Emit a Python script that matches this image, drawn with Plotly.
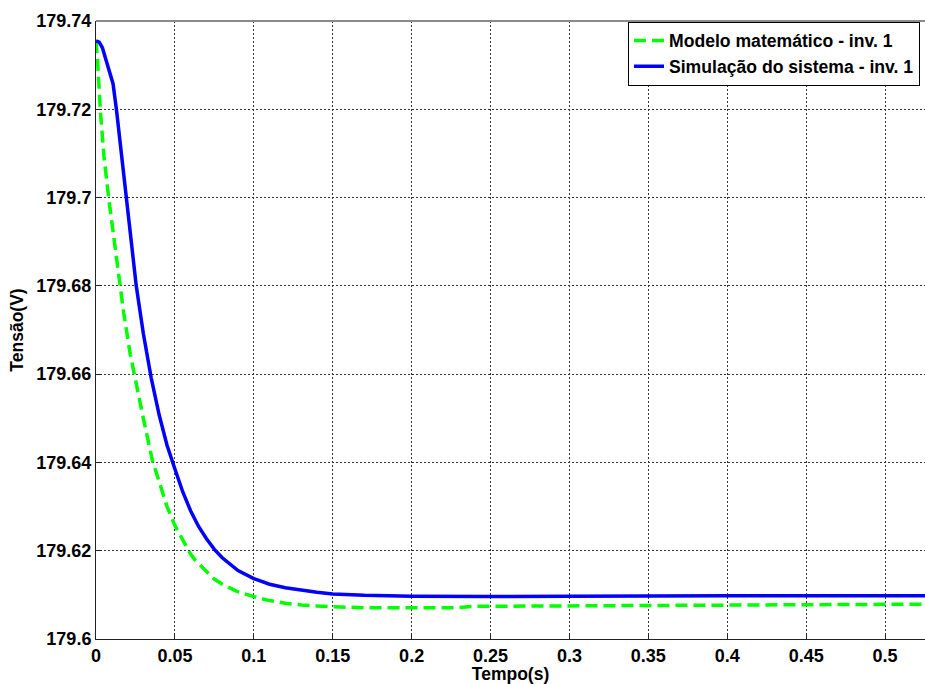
import plotly.graph_objects as go

# ---- data ----
t_model = [0, 0.001, 0.0027, 0.005, 0.008, 0.011, 0.0141, 0.0175, 0.0217, 0.026, 0.03,
           0.0357, 0.04, 0.045, 0.05, 0.055, 0.06, 0.063, 0.07, 0.0745, 0.08, 0.09, 0.1,
           0.11, 0.12, 0.13, 0.14, 0.15, 0.17, 0.2, 0.23, 0.24, 0.3, 0.35, 0.4, 0.45, 0.53]
v_model = [179.7355, 179.731, 179.720, 179.7095, 179.700, 179.6915, 179.6825, 179.674,
           179.6645, 179.6565, 179.650, 179.6405, 179.6355, 179.630, 179.6257, 179.6223,
           179.6192, 179.6178, 179.6152, 179.6137, 179.6124, 179.6107, 179.6096, 179.6087,
           179.6081, 179.6077, 179.6075, 179.6073, 179.6071, 179.6071, 179.6071, 179.6074,
           179.6075, 179.6076, 179.6078, 179.6078, 179.6079]

t_sim = [0, 0.002, 0.004, 0.006, 0.008, 0.0108, 0.013, 0.016, 0.019, 0.0225, 0.0255, 0.03,
         0.035, 0.04, 0.045, 0.05, 0.055, 0.06, 0.065, 0.07, 0.075, 0.08, 0.09, 0.1, 0.11,
         0.12, 0.13, 0.14, 0.15, 0.17, 0.2, 0.25, 0.3, 0.35, 0.4, 0.45, 0.5, 0.53]
v_sim = [179.7355, 179.7352, 179.7340, 179.7315, 179.7288, 179.7258, 179.7198, 179.7100,
         179.7003, 179.6895, 179.6800, 179.6692, 179.6591, 179.6508, 179.6439, 179.6385,
         179.6333, 179.6290, 179.6255, 179.6227, 179.6203, 179.6184, 179.6155, 179.6137,
         179.6124, 179.6116, 179.6110, 179.6106, 179.6102, 179.6099, 179.6097, 179.6096,
         179.6097, 179.6098, 179.6098, 179.6098, 179.6098, 179.6098]

x_ticks = [0, 0.05, 0.1, 0.15, 0.2, 0.25, 0.3, 0.35, 0.4, 0.45, 0.5]
x_labels = ["0", "0.05", "0.1", "0.15", "0.2", "0.25", "0.3", "0.35", "0.4", "0.45", "0.5"]
y_ticks = [179.6, 179.62, 179.64, 179.66, 179.68, 179.7, 179.72, 179.74]
y_labels = ["179.6", "179.62", "179.64", "179.66", "179.68", "179.7", "179.72", "179.74"]

name_model = "Modelo matemático - inv. 1"
name_sim = "Simulação do sistema - inv. 1"

FONT = "Liberation Sans, Arial, sans-serif"
X_RANGE = [0, 0.5253]
Y_RANGE = [179.6, 179.74]

fig = go.Figure()
fig.add_trace(go.Scatter(x=t_model, y=v_model, mode="lines", name=name_model,
                         line=dict(color="#00ff00", width=3.5, dash="12px,6px")))
fig.add_trace(go.Scatter(x=t_sim, y=v_sim, mode="lines", name=name_sim,
                         line=dict(color="#0000ff", width=3.5)))

tickfont = dict(family=FONT, size=18, color="black", weight="bold")

fig.update_layout(
    width=925, height=684,
    margin=dict(l=96, r=0, t=21, b=45),
    paper_bgcolor="white", plot_bgcolor="white",
    font=dict(family=FONT, color="black"),
    showlegend=True,
    legend=dict(x=(628 - 96) / 829, y=1 - (21.5 - 21) / 618, xanchor="left", yanchor="top",
                bgcolor="white", bordercolor="black", borderwidth=1,
                font=dict(family=FONT, size=17.6, color="black", weight="bold"),
                tracegroupgap=0, itemwidth=30),
    xaxis=dict(range=X_RANGE, tickvals=x_ticks, ticktext=x_labels, tickfont=tickfont,
               showgrid=True, gridcolor="#333333", gridwidth=1, griddash="2px,2px",
               zeroline=False, showline=True, linecolor="#222222", linewidth=1,
               ticks="inside", ticklen=5, tickcolor="#222222", mirror=False,
               title=dict(text="Tempo(s)", font=dict(family=FONT, size=17.5, color="black", weight="bold"),
                          standoff=2)),
    yaxis=dict(range=Y_RANGE, tickvals=y_ticks, ticktext=y_labels, tickfont=tickfont,
               showgrid=True, gridcolor="#333333", gridwidth=1, griddash="2px,2px",
               zeroline=False, showline=True, linecolor="#222222", linewidth=1,
               ticks="inside", ticklen=5, tickcolor="#222222", mirror=False,
               title=dict(text="Tensão(V)", font=dict(family=FONT, size=17.5, color="black", weight="bold"),
                          standoff=8)),
    xaxis2=dict(range=X_RANGE, overlaying="x", side="top", anchor="y", tickvals=x_ticks,
                showticklabels=False, ticks="inside", ticklen=5, tickcolor="#333333",
                showgrid=False, zeroline=False, showline=False),
    shapes=[dict(type="line", xref="paper", yref="paper", x0=0, x1=1, y0=1, y1=1,
                 line=dict(color="#8a8a8a", width=2), layer="above")],
)

fig.write_html("out.html", config={"displayModeBar": False})

# remove the browser's default page margin so the figure sits at the window's corner
with open("out.html", "r", encoding="utf-8") as f:
    html = f.read()
html = html.replace("<head>", "<head><style>html,body{margin:0;padding:0;overflow:hidden;}</style>", 1)
with open("out.html", "w", encoding="utf-8") as f:
    f.write(html)
